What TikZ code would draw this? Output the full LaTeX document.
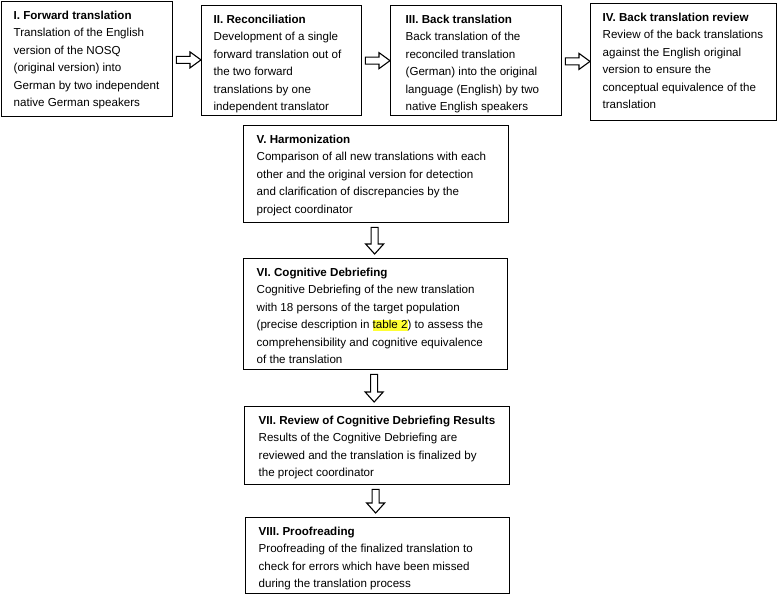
\documentclass[tikz,border=0pt]{standalone}
\usepackage{fontspec}
\setmainfont{Liberation Sans}
\usetikzlibrary{calc}
\definecolor{hl}{HTML}{FFFF33}
\newcommand\stepcontent[4]{\parbox[t][#1][t]{#2}{\fontsize{11.6}{17.5}\selectfont\raggedright\leftskip=#3\relax\noindent\rule{0pt}{17.5pt}#4}}
\newcommand\hconn[2]{\draw[blockarrow] let \p1=(#1.east), \p2=(#2.west), \n1={(\y1+\y2)/2} in
  (\x1+3pt,\n1+3.5pt) -- (\x2-11pt,\n1+3.5pt) -- (\x2-11pt,\n1+8pt) -- (\x2,\n1) -- (\x2-11pt,\n1-8pt) -- (\x2-11pt,\n1-3.5pt) -- (\x1+3pt,\n1-3.5pt) -- cycle;}
\newcommand\vconn[2]{\draw[blockarrow] let \p1=(#1.south), \p2=(#2.north), \n1={\x1-1.5pt} in
  (\n1-3.5pt,\y1-4pt) -- (\n1-3.5pt,\y2+14pt) -- (\n1-9pt,\y2+14pt) -- (\n1,\y2+4pt) -- (\n1+9pt,\y2+14pt) -- (\n1+3.5pt,\y2+14pt) -- (\n1+3.5pt,\y1-4pt) -- cycle;}
\begin{document}
\begin{tikzpicture}[x=1pt,y=-1pt,
  stepbox/.style={draw, line width=1.3pt, inner sep=0pt, anchor=north west},
  blockarrow/.style={draw, line width=1.1pt, fill=white, line join=miter}]
\useasboundingbox (0,0) rectangle (778,595);
\node[stepbox] (b1) at (1,1) {\stepcontent{115pt}{171pt}{12pt}{\textbf{I. Forward translation}\\
Translation of the English\\
version of the NOSQ\\
(original version) into\\
German by two independent\\
native German speakers}};
\node[stepbox] (b2) at (201,5) {\stepcontent{110pt}{160pt}{12pt}{\textbf{II. Reconciliation}\\
Development of a single\\
forward translation out of\\
the two forward\\
translations by one\\
independent translator}};
\node[stepbox] (b3) at (390,5) {\stepcontent{110pt}{171pt}{15pt}{\textbf{III. Back translation}\\
Back translation of the\\
reconciled translation\\
(German) into the original\\
language (English) by two\\
native English speakers}};
\node[stepbox] (b4) at (590,3) {\stepcontent{117pt}{186pt}{12pt}{\textbf{IV. Back translation review}\\
Review of the back translations\\
against the English original\\
version to ensure the\\
conceptual equivalence of the\\
translation}};
\node[stepbox] (b5) at (243,125) {\stepcontent{97pt}{265pt}{13pt}{\textbf{V. Harmonization}\\
Comparison of all new translations with each\\
other and the original version for detection\\
and clarification of discrepancies by the\\
project coordinator}};
\node[stepbox] (b6) at (243,258) {\stepcontent{111pt}{264pt}{13pt}{\textbf{VI. Cognitive Debriefing}\\
Cognitive Debriefing of the new translation\\
with 18 persons of the target population\\
(precise description in {\setlength\fboxsep{0pt}\colorbox{hl}{\rule[-2pt]{0pt}{11pt}table 2}}) to assess the\\
comprehensibility and cognitive equivalence\\
of the translation}};
\node[stepbox] (b7) at (244,406) {\stepcontent{78pt}{265pt}{14pt}{\textbf{VII. Review of Cognitive Debriefing Results}\\
Results of the Cognitive Debriefing are\\
reviewed and the translation is finalized by\\
the project coordinator}};
\node[stepbox] (b8) at (245,517) {\stepcontent{76pt}{264pt}{13pt}{\textbf{VIII. Proofreading}\\
Proofreading of the finalized translation to\\
check for errors which have been missed\\
during the translation process}};
\hconn{b1}{b2}
\hconn{b2}{b3}
\hconn{b3}{b4}
\vconn{b5}{b6}
\vconn{b6}{b7}
\vconn{b7}{b8}
\end{tikzpicture}
\end{document}
